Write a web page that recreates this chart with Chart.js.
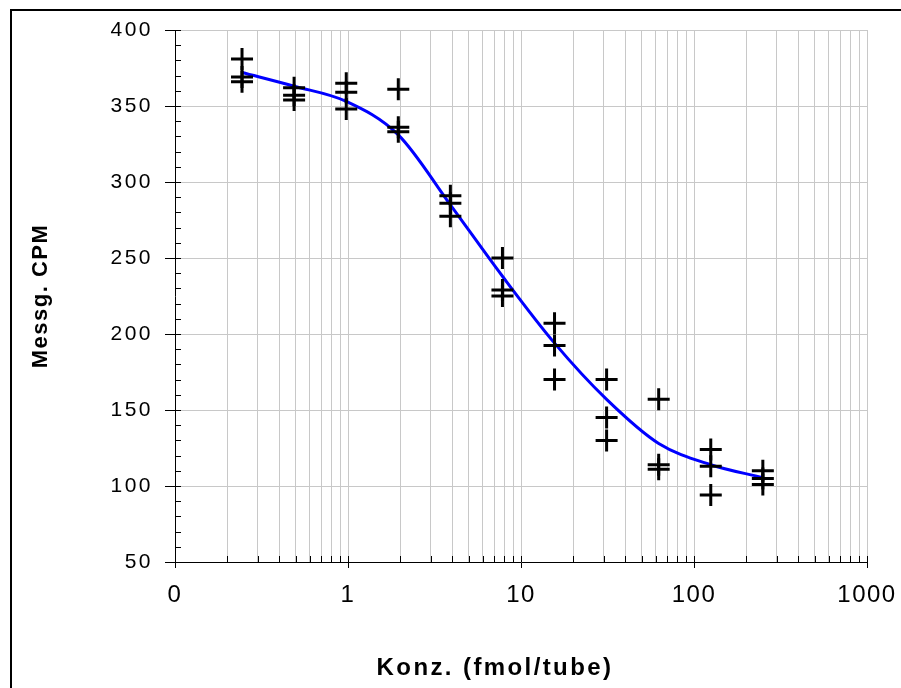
<!DOCTYPE html>
<html>
<head>
<meta charset="utf-8">
<script src="https://cdn.jsdelivr.net/npm/chart.js@4/dist/chart.umd.min.js"></script>
<style>
  html, body { margin: 0; padding: 0; background: #fff; }
  canvas { display: block; }
</style>
</head>
<body>
<canvas id="chart" width="901" height="688"></canvas>
<script>
// standards, 1:2 dilution row (fmol/tube)
const konz = [0.244, 0.488, 0.977, 1.953, 3.906, 7.8125, 15.625, 31.25, 62.5, 125, 250];
// three replicate counts per standard
const cpmA = [381, 362, 365, 361, 291, 250, 207, 170, 157, 124, 110];
const cpmB = [369, 357, 359, 336, 286, 229, 192.5, 145, 114, 113, 105];
const cpmC = [366, 354, 348, 333, 277.5, 225, 170, 130, 111, 94, 101];
// blue fit line
const fitX = [0.244, 0.488, 0.977, 1.953, 3.906, 7.8125, 15.625, 31.25, 62.5, 125, 250];
const fitY = [372, 363, 353, 331, 285, 238, 194, 157, 128, 114, 105.5];

const xDecades = [0.1, 1, 10, 100, 1000];
const xTickLabels = ["0", "1", "10", "100", "1000"];
const yTickLabels = [50, 100, 150, 200, 250, 300, 350, 400];

const FONT = "'Liberation Sans', Arial, Helvetica, sans-serif";
const GRID = "#c8c8c8";
const X_TITLE_SHIFT = -26;

// 1..9 per decade for the log grid
const xGrid = [];
for (let d = 0; d < xDecades.length - 1; d++) {
    for (let k = 1; k <= 9; k++) xGrid.push(xDecades[d] * k);
}
xGrid.push(xDecades[xDecades.length - 1]);

const points = [cpmA, cpmB, cpmC].flatMap(r => konz.map((x, i) => ({ x: x, y: r[i] })));
const curve = fitX.map((x, i) => ({ x: x, y: fitY[i] }));

// canvas letterSpacing on some scale texts (the old chart has wide text)
function spaced(scale, name, spacing, dx) {
    if (scale["_sp_" + name]) return;
    const orig = scale[name];
    scale[name] = function (...args) {
        const ctx = this.ctx;
        ctx.save();
        ctx.letterSpacing = spacing;
        ctx.translate(dx, 0);
        orig.apply(this, args);
        ctx.restore();
    };
    scale["_sp_" + name] = true;
}

const frame = {
    id: "frame",
    beforeDraw(chart) {
        const ctx = chart.ctx;
        ctx.save();
        ctx.fillStyle = "#fff";
        ctx.fillRect(0, 0, chart.width, chart.height);
        ctx.strokeStyle = "#000";
        ctx.lineWidth = 2;
        ctx.beginPath();
        ctx.moveTo(11, chart.height);
        ctx.lineTo(11, 10);
        ctx.lineTo(chart.width, 10);
        ctx.stroke();
        ctx.restore();
    },
    afterUpdate(chart) {
        spaced(chart.scales.x, "drawTitle", "2.4px", X_TITLE_SHIFT);
        spaced(chart.scales.x, "drawLabels", "1.5px", 0);
        spaced(chart.scales.y, "drawTitle", "1.5px", 0);
        spaced(chart.scales.y, "drawLabels", "2.5px", 0);
    },
    // small inward ticks on both axes
    beforeDatasetsDraw(chart) {
        const { ctx, chartArea: a, scales: { x, y } } = chart;
        ctx.save();
        ctx.strokeStyle = "#000";
        ctx.lineWidth = 1;
        ctx.beginPath();
        y.ticks.forEach(t => {
            const py = Math.round(y.getPixelForValue(t.value)) + 0.5;
            ctx.moveTo(a.left, py);
            ctx.lineTo(a.left + 6, py);
        });
        x.ticks.forEach(t => {
            const px = Math.round(x.getPixelForValue(t.value)) + 0.5;
            ctx.moveTo(px, a.bottom);
            ctx.lineTo(px, a.bottom - 6);
        });
        ctx.stroke();
        ctx.restore();
    }
};

new Chart(document.getElementById("chart"), {
    type: "scatter",
    data: {
        datasets: [{
            label: "Messwerte",
            data: points,
            pointStyle: "cross",
            pointRadius: 11,
            borderColor: "#000",
            backgroundColor: "#000",
            borderWidth: 3,
            showLine: false
        }, {
            type: "line",
            label: "Fit",
            data: curve,
            borderColor: "#0000ff",
            borderWidth: 3,
            pointRadius: 0,
            fill: false,
            cubicInterpolationMode: "monotone"
        }]
    },
    options: {
        responsive: false,
        animation: false,
        layout: { padding: { left: 0, top: 30, right: 34, bottom: 0 } },
        plugins: {
            legend: { display: false },
            tooltip: { enabled: false }
        },
        scales: {
            x: {
                type: "logarithmic",
                min: 0.1,
                max: 1000,
                afterBuildTicks(s) { s.ticks = xGrid.map(v => ({ value: v })); },
                afterFit(s) {
                    s.height = 688 - 562;
                    s.paddingLeft = 0;
                    s.paddingRight = 0;
                },
                grid: {
                    color: c => (c.tick && c.tick.value === 0.1) ? "transparent" : GRID,
                    lineWidth: 1,
                    tickLength: 6,
                    tickColor: c => xDecades.includes(c.tick.value) ? "#000" : "transparent"
                },
                border: { color: "#000", width: 1 },
                ticks: {
                    autoSkip: false,
                    maxRotation: 0,
                    padding: 13,
                    color: "#000",
                    font: { family: FONT, size: 24 },
                    callback: v => {
                        const i = xDecades.indexOf(v);
                        return i < 0 ? "" : xTickLabels[i];
                    }
                },
                title: {
                    display: true,
                    text: "Konz. (fmol/tube)",
                    color: "#000",
                    font: { family: FONT, size: 24, weight: "bold" },
                    padding: { top: 0, bottom: 5 }
                }
            },
            y: {
                min: 50,
                max: 400,
                afterFit(s) { s.width = 175; },
                grid: {
                    color: c => (c.tick.value % 50 === 0 && c.tick.value !== 50) ? GRID : "transparent",
                    lineWidth: 1,
                    tickLength: 10,
                    tickColor: c => c.tick.value % 50 === 0 ? "#000" : "transparent"
                },
                border: { color: "#000", width: 1 },
                ticks: {
                    stepSize: 10,
                    autoSkip: false,
                    padding: 12,
                    color: "#000",
                    font: { family: FONT, size: 21 },
                    callback: v => yTickLabels.includes(v) ? String(v) : ""
                },
                title: {
                    display: true,
                    text: "Messg. CPM",
                    color: "#000",
                    font: { family: FONT, size: 22, weight: "bold" },
                    padding: { top: 28, bottom: 0 }
                }
            }
        }
    },
    plugins: [frame]
});
</script>
</body>
</html>
